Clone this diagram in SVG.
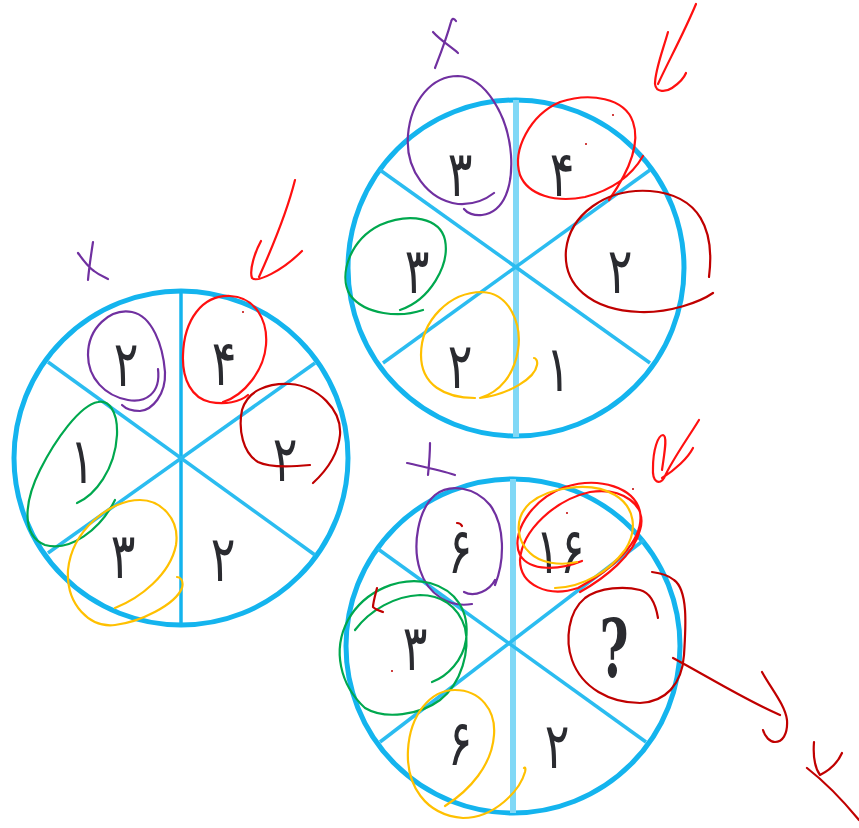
<svg xmlns="http://www.w3.org/2000/svg" width="859" height="828" viewBox="0 0 859 828">
<style>
.ring{fill:none;stroke:#14b4ee;stroke-width:5}
.spoke{stroke:#2bbcf0;stroke-width:3.5;fill:none}
.vlight{stroke:#80d8f6;stroke-width:6}
.vdark{stroke:#14b4ee;stroke-width:3.5}
.num{font-family:"DejaVu Sans","Noto Sans",sans-serif;font-size:64px;fill:#2a2b30;text-anchor:middle}
.q{font-family:"DejaVu Serif","Liberation Serif",serif;font-weight:bold;font-size:80px;fill:#2a2b30;text-anchor:middle}
.pen{fill:none;stroke-linecap:round;stroke-linejoin:round;stroke-width:2.2}
.pu{stroke:#7030a0}
.rd{stroke:#ff1010}
.dr{stroke:#c00000}
.gr{stroke:#00a84e}
.ye{stroke:#ffc000}
</style>
<rect width="859" height="828" fill="#fff"/>

<g id="circle-left">
  <circle class="ring" cx="181" cy="458" r="167"/>
  <line class="vdark" x1="181" y1="291" x2="181" y2="625"/>
  <line class="spoke" x1="48" y1="362" x2="315" y2="555"/>
  <line class="spoke" x1="48" y1="553" x2="315" y2="363"/>
  <text class="num" transform="translate(126,386) scale(0.72,1)">۲</text>
  <text class="num" transform="translate(224,385) scale(0.72,1)">۴</text>
  <text class="num" transform="translate(82,483) scale(0.72,1)">۱</text>
  <text class="num" transform="translate(285,481) scale(0.72,1)">۲</text>
  <text class="num" transform="translate(123,578) scale(0.72,1)">۳</text>
  <text class="num" transform="translate(223,581) scale(0.72,1)">۲</text>
</g>

<g id="circle-top">
  <circle class="ring" cx="516" cy="268" r="168"/>
  <line class="vlight" x1="516" y1="100" x2="516" y2="437"/>
  <line class="spoke" x1="380" y1="170" x2="650" y2="363"/>
  <line class="spoke" x1="383" y1="363" x2="650" y2="170"/>
  <text class="num" transform="translate(460,196) scale(0.72,1)">۳</text>
  <text class="num" transform="translate(562,196) scale(0.72,1)">۴</text>
  <text class="num" transform="translate(417,293) scale(0.72,1)">۳</text>
  <text class="num" transform="translate(620,293) scale(0.72,1)">۲</text>
  <text class="num" transform="translate(460,388) scale(0.72,1)">۲</text>
  <text class="num" transform="translate(558,391) scale(0.72,1)">۱</text>
</g>

<g id="circle-bottom">
  <circle class="ring" cx="513" cy="646" r="167"/>
  <line class="vlight" x1="513" y1="479" x2="513" y2="813"/>
  <line class="spoke" x1="378" y1="549" x2="646" y2="742"/>
  <line class="spoke" x1="380" y1="742" x2="644" y2="540"/>
  <text class="num" transform="translate(460,573) scale(0.72,1)">۶</text>
  <text class="num" transform="translate(560,573) scale(0.72,1)" letter-spacing="6">۱۶</text>
  <text class="num" transform="translate(415,670) scale(0.72,1)">۳</text>
  <text class="q" transform="translate(614,677) scale(0.62,1)">?</text>
  <text class="num" transform="translate(460,765) scale(0.72,1)">۶</text>
  <text class="num" transform="translate(557,768) scale(0.72,1)">۲</text>
</g>

<g id="annotations">
  <!-- left circle -->
  <path class="pen pu" d="M78,253 C83,260 88,267 94,271 C99,275 104,277 108,279 M93,242 C91,255 89,268 88,280"/>
  <path class="pen rd" d="M295,180 C287,212 272,248 259,277 M261,241 C255,252 249,270 252,278 C257,283 282,271 302,251"/>
  <path class="pen pu" d="M158,369 C161,394 145,403 128,400 C105,396 88,378 88,355 C88,328 110,308 132,312 C152,316 163,345 165,372 C166,395 152,410 140,411 C132,411 125,408 122,405"/>
  <path class="pen rd" d="M248,395 C240,402 225,405 210,402 C192,398 182,380 183,355 C184,320 202,295 230,296 C255,297 268,320 266,345 C264,370 245,395 223,402"/>
  <path class="pen dr" d="M310,465 C290,467 270,468 258,462 C243,453 238,430 242,410 C248,390 268,383 290,384 C318,386 342,410 340,435 C338,455 325,472 313,483"/>
  <path class="pen gr" d="M77,503 C95,495 115,470 117,435 C118,410 108,400 98,402 C80,405 55,440 40,470 C25,500 20,535 45,545 C70,552 100,530 115,500"/>
  <path class="pen ye" d="M115,608 C140,598 170,575 176,545 C180,518 160,500 140,500 C110,500 72,530 68,570 C66,605 90,628 115,625 C140,622 175,605 182,588 C184,580 180,577 177,577"/>

  <!-- top circle -->
  <path class="pen pu" d="M433,32 C440,40 450,46 458,53 M456,21 C454,18 452,18 451,22 C446,40 440,55 435,68"/>
  <path class="pen rd" d="M696,4 C683,35 668,62 658,84 M668,32 C663,50 655,70 655,84 C656,93 666,92 672,88 C678,84 684,78 686,73"/>
  <path class="pen pu" d="M494,193 C485,200 472,205 458,204 C428,200 405,170 408,135 C411,100 432,76 458,76 C485,77 508,115 511,155 C513,185 505,212 482,215 C474,216 467,213 464,209"/>
  <path class="pen rd" d="M643,156 C632,175 612,190 585,197 C555,203 528,195 520,175 C512,150 530,115 560,102 C590,92 625,98 633,122 C640,142 630,170 609,200"/>
  <path class="pen dr" d="M709,277 C715,230 700,195 650,191 C605,188 570,215 566,250 C563,285 590,310 640,312 C670,313 700,302 713,293"/>
  <path class="pen gr" d="M423,310 C400,318 365,315 350,295 C338,275 350,240 380,225 C410,212 440,218 445,240 C450,265 430,300 400,310"/>
  <path class="pen ye" d="M475,398 C445,398 421,385 421,355 C421,320 450,292 482,292 C510,293 522,325 518,350 C514,375 500,392 480,398 C510,394 535,378 537,365 C538,360 535,358 534,358"/>

  <!-- bottom circle -->
  <path class="pen pu" d="M407,463 C420,466 440,470 455,475 M430,443 C430,455 429,465 428,475"/>
  <path class="pen rd" d="M699,420 C688,438 672,460 664,478 C660,485 652,483 653,468 C653,450 658,435 663,435 C668,436 664,455 662,470 M662,478 C675,470 688,458 693,448"/>
  <path class="pen pu" d="M464,592 C475,598 490,590 495,580 M495,585 C505,560 505,525 490,505 C475,487 450,483 435,495 C418,510 412,545 420,570 C428,595 450,608 472,604"/>
  <path class="pen rd" d="M582,561 C560,570 530,572 520,555 C510,535 530,500 565,487 C600,476 635,488 640,512 C645,540 612,570 578,588 C548,598 520,585 520,560 C522,530 555,500 590,492 C622,487 648,505 640,530 C634,555 605,578 580,592"/>
  <path class="pen ye" d="M577,562 C560,566 540,563 530,553 C518,542 512,520 530,503 C548,488 590,480 615,495 C635,507 638,530 625,550 C610,570 585,587 555,588"/>
  <path class="pen dr" d="M658,618 C655,600 648,592 640,590 C625,586 600,587 585,598 C568,612 565,640 572,660 C582,688 610,703 640,703 C665,702 682,685 684,655 C686,625 688,590 674,580 C668,575 660,573 652,572"/>
  <path class="pen dr" d="M673,658 C705,675 745,700 780,715 M762,672 C772,690 785,705 787,720 C788,735 782,742 775,742 C770,742 765,737 763,730"/>
  <path class="pen dr" d="M814,742 C813,755 815,768 820,775 C830,770 838,762 842,753 M807,768 C825,782 845,803 859,820"/>
  <path class="pen gr" d="M432,682 C448,676 463,660 466,640 C470,610 455,590 430,583 C400,576 365,590 348,620 C332,650 340,685 365,708 C385,720 420,715 440,700 C462,683 470,650 465,628 C458,605 440,595 420,595 C395,596 370,610 355,630"/>
  <path class="pen dr" d="M377,588 C375,596 373,603 373,607 C376,610 380,611 383,612"/>
  <path class="pen ye" d="M445,806 C470,790 492,765 494,735 C496,710 480,690 455,690 C430,690 410,715 408,750 C406,785 425,815 463,818 C495,818 520,790 525,772 C526,768 525,767 524,768"/>
  <path class="pen dr" d="M457,523 C459,523 461,524 462,526" stroke-width="1.5"/>
  <circle cx="633" cy="489" r="1" fill="#c00000"/>
  <circle cx="567" cy="513" r="1" fill="#c00000"/>
  <circle cx="392" cy="671" r="1" fill="#c00000"/>
  <circle cx="243" cy="312" r="1" fill="#c00000"/>
  <circle cx="586" cy="144" r="1" fill="#c00000"/>
  <circle cx="613" cy="115" r="1" fill="#c00000"/>
</g>
</svg>
